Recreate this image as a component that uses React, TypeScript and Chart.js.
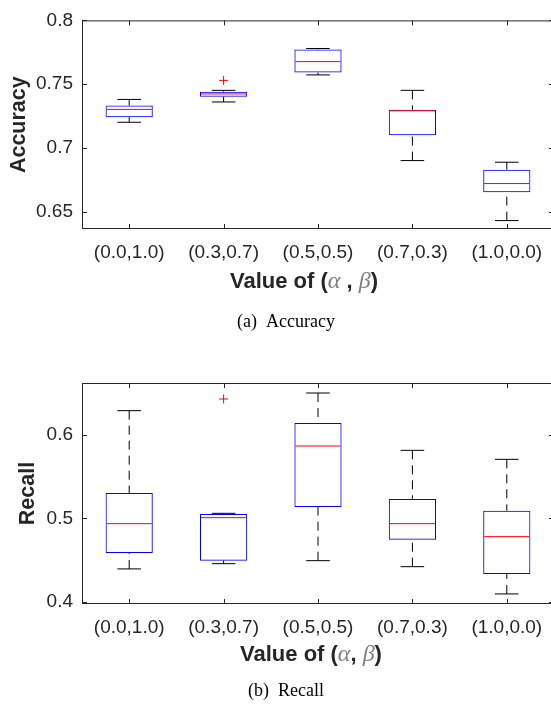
import React, { useEffect, useRef } from "react";
import { Chart, registerables } from "chart.js";

Chart.register(...registerables);

// ---------- data ----------
const categories = ["(0.0,1.0)", "(0.3,0.7)", "(0.5,0.5)", "(0.7,0.3)", "(1.0,0.0)"];

// (a) Accuracy
const accLowWhisker = [0.7202, 0.7361, 0.7573, 0.6902, 0.6432];
const accQ1 = [0.7242, 0.7402, 0.7591, 0.7101, 0.6654];
const accMedian = [0.7303, 0.7424, 0.7677, 0.7292, 0.6722];
const accQ3 = [0.7333, 0.7442, 0.7773, 0.73, 0.6831];
const accHighWhisker = [0.7381, 0.7452, 0.778, 0.7452, 0.6889];
const accOutliers = [null, 0.753, null, null, null];
const accTicks = [0.65, 0.7, 0.75, 0.8];
const accRange = [0.6366, 0.8];

// (b) Recall
const recLowWhisker = [0.4393, 0.4456, 0.4492, 0.442, 0.4093];
const recQ1 = [0.4584, 0.4492, 0.5137, 0.4744, 0.4333];
const recMedian = [0.4936, 0.5008, 0.5868, 0.4936, 0.478];
const recQ3 = [0.5305, 0.5052, 0.6144, 0.5233, 0.5092];
const recHighWhisker = [0.6292, 0.506, 0.6504, 0.5816, 0.5708];
const recOutliers = [null, 0.6432, null, null, null];
const recTicks = [0.4, 0.5, 0.6];
const recRange = [0.3972, 0.6624];

// ---------- styling ----------
const SANS = "'Liberation Sans', Arial, Helvetica, sans-serif";
const SERIF = "'Liberation Serif', 'Times New Roman', serif";
const AXIS_COLOR = "#262626";
const CANVAS_W = 560;

type Panel = {
  id: string;
  yLabel: string;
  caption: string;
  commaText: string;
  low: number[];
  q1: number[];
  med: number[];
  q3: number[];
  high: number[];
  outliers: (number | null)[];
  ticks: number[];
  range: number[];
  canvasTop: number;
  canvasH: number;
  padTop: number;
  xAxisH: number;
  yTitlePad: number;
  xTitleCenter: number;
  xTitleY: number;
  captionY: number;
};

const panels: Panel[] = [
  {
    id: "acc",
    yLabel: "Accuracy",
    caption: "(a)  Accuracy",
    commaText: " , ",
    low: accLowWhisker,
    q1: accQ1,
    med: accMedian,
    q3: accQ3,
    high: accHighWhisker,
    outliers: accOutliers,
    ticks: accTicks,
    range: accRange,
    canvasTop: 0,
    canvasH: 345,
    padTop: 13,
    xAxisH: 116,
    yTitlePad: 6,
    xTitleCenter: 304,
    xTitleY: 282,
    captionY: 322,
  },
  {
    id: "rec",
    yLabel: "Recall",
    caption: "(b)  Recall",
    commaText: ", ",
    low: recLowWhisker,
    q1: recQ1,
    med: recMedian,
    q3: recQ3,
    high: recHighWhisker,
    outliers: recOutliers,
    ticks: recTicks,
    range: recRange,
    canvasTop: 345,
    canvasH: 360,
    padTop: 38,
    xAxisH: 101,
    yTitlePad: 15,
    xTitleCenter: 311,
    xTitleY: 310,
    captionY: 346,
  },
];

function makePlugin(p: Panel) {
  return {
    id: "boxdecor_" + p.id,
    afterDatasetsDraw(chart: any) {
      const { ctx, scales } = chart;
      const x = scales.x;
      const y = scales.y;
      const meta = chart.getDatasetMeta(0);
      const line = (x1: number, y1: number, x2: number, y2: number) => {
        ctx.beginPath();
        ctx.moveTo(x1, y1);
        ctx.lineTo(x2, y2);
        ctx.stroke();
      };
      ctx.save();
      ctx.lineWidth = 1;
      for (let i = 0; i < categories.length; i++) {
        const cx = x.getPixelForValue(i);
        const half = meta.data[i].width / 2;
        const capHalf = half / 2;
        const yLo = y.getPixelForValue(p.low[i]);
        const yQ1 = y.getPixelForValue(p.q1[i]);
        const yMed = y.getPixelForValue(p.med[i]);
        const yQ3 = y.getPixelForValue(p.q3[i]);
        const yHi = y.getPixelForValue(p.high[i]);
        ctx.strokeStyle = "#000000";
        ctx.setLineDash([9, 6]);
        line(cx, yHi, cx, yQ3);
        line(cx, yLo, cx, yQ1);
        ctx.setLineDash([]);
        line(cx - capHalf, yHi, cx + capHalf, yHi);
        line(cx - capHalf, yLo, cx + capHalf, yLo);
        ctx.strokeStyle = "#ff0000";
        line(cx - half + 1, yMed, cx + half - 1, yMed);
      }
      ctx.restore();
    },
    afterDraw(chart: any) {
      const { ctx, chartArea, scales } = chart;
      const { left, right, top, bottom } = chartArea;
      const x = scales.x;
      const y = scales.y;
      ctx.save();
      ctx.strokeStyle = AXIS_COLOR;
      ctx.lineWidth = 1;
      ctx.strokeRect(left + 0.5, top + 0.5, right - left - 1, bottom - top - 1);
      const TL = 5;
      ctx.beginPath();
      for (let i = 0; i < x.ticks.length; i++) {
        const px = Math.round(x.getPixelForTick(i)) + 0.5;
        ctx.moveTo(px, bottom);
        ctx.lineTo(px, bottom - TL);
        ctx.moveTo(px, top);
        ctx.lineTo(px, top + TL);
      }
      for (const v of p.ticks) {
        const py = Math.round(y.getPixelForValue(v)) + 0.5;
        ctx.moveTo(left, py);
        ctx.lineTo(left + TL, py);
        ctx.moveTo(right, py);
        ctx.lineTo(right - TL, py);
      }
      ctx.stroke();

      // x axis title with mixed fonts
      const bold = `bold 22px ${SANS}`;
      const greek = `italic 24px ${SERIF}`;
      const parts = [
        { t: "Value of (", f: bold, c: AXIS_COLOR },
        { t: "\u03B1", f: greek, c: "#808080" },
        { t: p.commaText, f: bold, c: AXIS_COLOR },
        { t: "\u03B2", f: greek, c: "#808080" },
        { t: ")", f: bold, c: AXIS_COLOR },
      ];
      let total = 0;
      for (const part of parts) {
        ctx.font = part.f;
        total += ctx.measureText(part.t).width;
      }
      let cx = p.xTitleCenter - total / 2;
      ctx.textBaseline = "middle";
      ctx.textAlign = "left";
      for (const part of parts) {
        ctx.font = part.f;
        ctx.fillStyle = part.c;
        ctx.fillText(part.t, cx, p.xTitleY);
        cx += ctx.measureText(part.t).width;
      }

      // caption
      ctx.font = `18px ${SERIF}`;
      ctx.fillStyle = "#000000";
      ctx.textAlign = "center";
      ctx.fillText(p.caption, 286, p.captionY);
      ctx.restore();
    },
  };
}

function makeConfig(p: Panel): any {
  return {
    type: "bar",
    data: {
      labels: categories,
      datasets: [
        {
          type: "bar",
          data: p.q1.map((v, i) => [v, p.q3[i]]),
          backgroundColor: "rgba(0,0,0,0)",
          borderColor: "#0000ff",
          borderWidth: 1,
          borderSkipped: false,
          barPercentage: 0.5,
          categoryPercentage: 1,
          order: 2,
        },
        {
          type: "line",
          data: p.outliers,
          showLine: false,
          pointStyle: "cross",
          pointRadius: 4.5,
          pointBorderColor: "#ff0000",
          pointBackgroundColor: "#ff0000",
          pointBorderWidth: 1,
          order: 1,
        },
      ],
    },
    options: {
      responsive: false,
      animation: false,
      devicePixelRatio: 1,
      layout: { padding: { top: p.padTop, right: CANVAS_W - 554, bottom: 0, left: 0 } },
      plugins: {
        legend: { display: false },
        tooltip: { enabled: false },
        title: { display: false },
      },
      scales: {
        x: {
          type: "category",
          offset: true,
          grid: { display: false, drawTicks: false },
          border: { display: false },
          ticks: {
            font: { family: SANS, size: 19 },
            color: AXIS_COLOR,
            padding: 12,
            maxRotation: 0,
            autoSkip: false,
          },
          afterFit: (s: any) => {
            s.height = p.xAxisH;
          },
        },
        y: {
          type: "linear",
          min: p.range[0],
          max: p.range[1],
          afterBuildTicks: (s: any) => {
            s.ticks = p.ticks.map((v) => ({ value: v }));
          },
          grid: { display: false, drawTicks: false },
          border: { display: false },
          ticks: {
            font: { family: SANS, size: 19 },
            color: AXIS_COLOR,
            padding: 9,
            callback: (v: any) => String(Math.round(v * 100) / 100),
          },
          title: {
            display: true,
            text: p.yLabel,
            color: AXIS_COLOR,
            font: { family: SANS, size: 21.5, weight: "bold" },
            padding: { top: p.yTitlePad, bottom: 0 },
          },
          afterFit: (s: any) => {
            s.width = 82;
          },
        },
      },
    },
    plugins: [makePlugin(p)],
  };
}

function BoxPanel({ panel }: { panel: Panel }) {
  const ref = useRef<HTMLCanvasElement | null>(null);
  useEffect(() => {
    if (!ref.current) return;
    const chart = new Chart(ref.current, makeConfig(panel));
    return () => chart.destroy();
  }, [panel]);
  return (
    <canvas
      ref={ref}
      width={CANVAS_W}
      height={panel.canvasH}
      style={{
        position: "absolute",
        left: 0,
        top: panel.canvasTop,
        width: CANVAS_W,
        height: panel.canvasH,
      }}
    />
  );
}

export default function App() {
  return (
    <div
      style={{
        position: "absolute",
        left: 0,
        top: 0,
        width: 551,
        height: 705,
        overflow: "hidden",
        background: "#ffffff",
      }}
    >
      {panels.map((p) => (
        <BoxPanel key={p.id} panel={p} />
      ))}
    </div>
  );
}
